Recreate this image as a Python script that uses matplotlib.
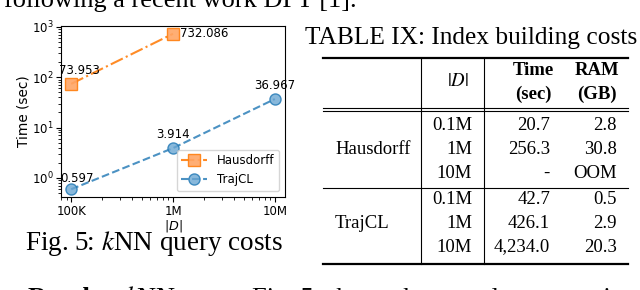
import numpy as np
import matplotlib.pyplot as plt
from matplotlib.lines import Line2D

# ====================== DATI ======================
sizes_h = [1e5, 1e6]
time_h = [73.953, 732.086]
sizes_t = [1e5, 1e6, 1e7]
time_t = [0.597, 3.914, 36.967]
xtick_vals = [1e5, 1e6, 1e7]
xtick_labels = ['100K', '1M', '10M']

# tabella IX
tab_methods = ['Hausdorff', 'TrajCL']
tab_sizes = ['0.1M', '1M', '10M']
tab_time = [['20.7', '256.3', '-'], ['42.7', '426.1', '4,234.0']]
tab_ram = [['2.8', '30.8', 'OOM'], ['0.5', '2.9', '20.3']]

W, H = 640, 290
SERIF = 'Liberation Serif'


def px(x, y):
    return x / W, 1 - y / H


def ftext(x, y, s, **kw):
    kw.setdefault('family', SERIF)
    kw.setdefault('math_fontfamily', 'stix')
    fig.text(*px(x, y), s, **kw)


def hline(x0, x1, y, lw=0.8):
    fig.add_artist(Line2D([x0 / W, x1 / W], [1 - y / H, 1 - y / H],
                          transform=fig.transFigure, color='black', lw=lw))


def vline(x, y0, y1, lw=0.8):
    fig.add_artist(Line2D([x / W, x / W], [1 - y0 / H, 1 - y1 / H],
                          transform=fig.transFigure, color='black', lw=lw))


# ====================== PLOT ======================
fig = plt.figure(figsize=(6.4, 2.9), dpi=100)
ax = fig.add_axes([61 / W, 1 - 197 / H, 224 / W, 171 / H])

orange = '#ff7f0e'
blue = '#1f77b4'
ax.plot(sizes_h, time_h, color=orange, ls='-.', lw=1.5, marker='s', ms=8,
        mfc='#ffa565', mec=orange, alpha=0.9, label='Hausdorff')
ax.plot(sizes_t, time_t, color=blue, ls='--', lw=1.5, marker='o', ms=8,
        mfc='#6aa6d2', mec=blue, alpha=0.8, label='TrajCL')

offs_h = [(-9, 5, 'left', 'bottom'), (5, 0, 'left', 'center')]
offs_t = [(-8, 3, 'left', 'bottom'), (0, 5, 'center', 'bottom'), (0, 5, 'center', 'bottom')]
for xv, yv, (dx, dy, ha, va) in zip(sizes_h, time_h, offs_h):
    ax.annotate(f'{yv:.3f}', (xv, yv), xytext=(dx, dy), textcoords='offset points',
                ha=ha, va=va, fontsize=8.5)
for xv, yv, (dx, dy, ha, va) in zip(sizes_t, time_t, offs_t):
    ax.annotate(f'{yv:.3f}', (xv, yv), xytext=(dx, dy), textcoords='offset points',
                ha=ha, va=va, fontsize=8.5)

ax.set_xscale('log')
ax.set_yscale('log')
ax.set_xticks(xtick_vals)
ax.set_xticklabels(xtick_labels)
ax.tick_params(axis='both', labelsize=8.5, pad=2)
ax.set_xlabel('$|D|$', fontsize=9.2, labelpad=0)
ax.set_ylabel('Time (sec)', fontsize=9.8, labelpad=1)
ax.legend(loc='lower right', fontsize=8.5, handlelength=2.2, borderpad=0.4)

# ====================== TESTO DI PAGINA ======================
ftext(357, 7, 'following a recent work DPT [1].', ha='right', va='baseline', fontsize=19)
ftext(154, 244, 'Fig. 5: $k$NN query costs', ha='center', va='center', fontsize=19.5)
ftext(471, 38, 'TABLE IX: Index building costs', ha='center', va='center', fontsize=18.3)

# riga giustificata in fondo (si vede solo la parte alta)
words_x = [28, 125, 252, 327, 397, 453, 527, 597]
words = ['Results:', '$k$NN', 'Fig. 5', 'shows', 'the', 'total', 'query', 'time']
for wx, w in zip(words_x, words):
    ftext(wx, 305, w, ha='left', va='baseline', fontsize=19,
          weight='bold' if w == 'Results:' else 'normal')
ftext(175, 305, 'query.', ha='left', va='baseline', fontsize=19)

# ====================== TABELLA ======================
hline(323, 628, 58, lw=1.6)
hline(323, 628, 108)
hline(323, 628, 111)
hline(323, 628, 188)
hline(323, 628, 264, lw=1.6)
vline(421, 58, 264)
vline(484, 58, 264)

fs = 13.5
ftext(458, 82, '$|D|$', ha='center', va='center', fontsize=fs)
ftext(533, 71, 'Time', ha='center', va='center', fontsize=fs, weight='bold')
ftext(533, 94, '(sec)', ha='center', va='center', fontsize=fs, weight='bold')
ftext(597, 71, 'RAM', ha='center', va='center', fontsize=fs, weight='bold')
ftext(597, 94, '(GB)', ha='center', va='center', fontsize=fs, weight='bold')

row_y = [[126, 150, 173], [200, 223, 247]]
for m, method in enumerate(tab_methods):
    ftext(335, row_y[m][1], method, ha='left', va='center', fontsize=fs)
    for r in range(3):
        y = row_y[m][r]
        ftext(472, y, tab_sizes[r], ha='right', va='center', fontsize=fs)
        ftext(550, y, tab_time[m][r], ha='right', va='center', fontsize=fs)
        ftext(617, y, tab_ram[m][r], ha='right', va='center', fontsize=fs)

plt.savefig('out.png', dpi=100)
